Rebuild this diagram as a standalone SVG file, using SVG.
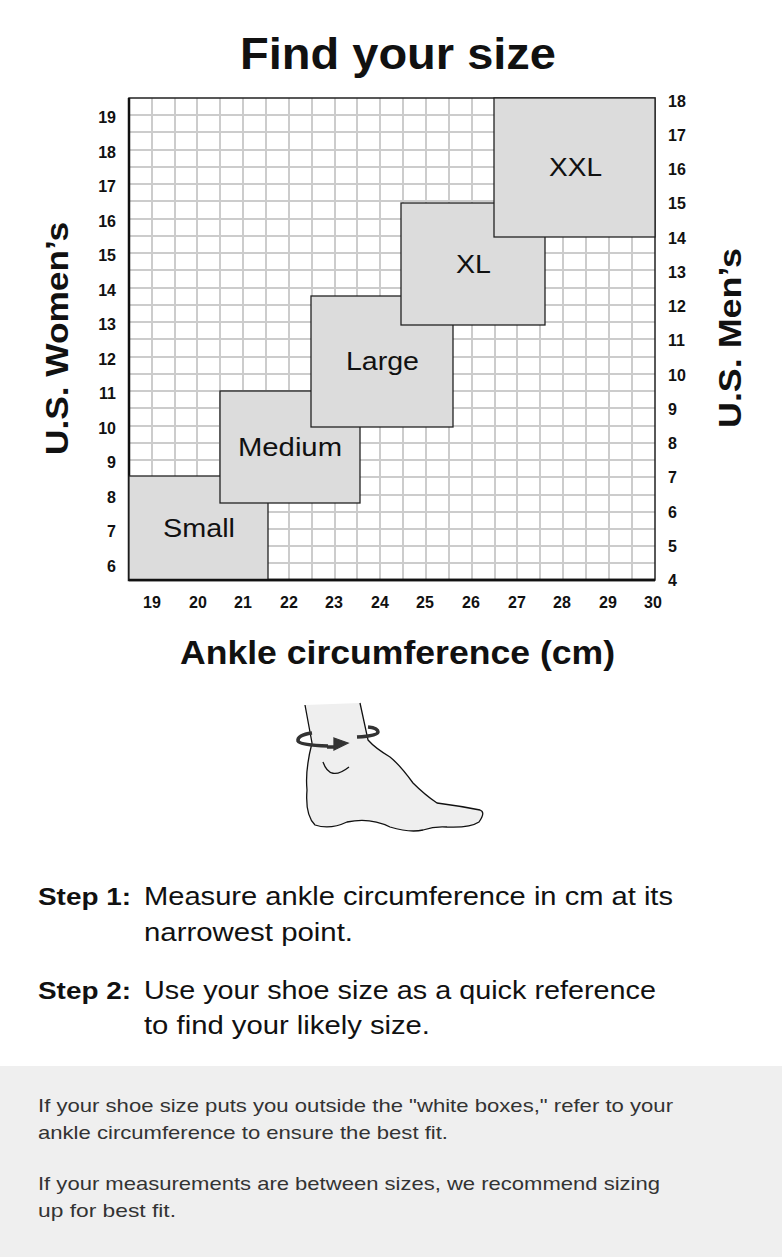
<svg xmlns="http://www.w3.org/2000/svg" width="782" height="1257" viewBox="0 0 782 1257">
<style>
text{font-family:"Liberation Sans",Arial,sans-serif;fill:#111}
.t{font-size:16px;font-weight:bold}
.g{stroke:#cccccc;stroke-width:2;fill:none}
.b{fill:#dcdcdc;stroke:#222;stroke-width:1.3}
.bl{font-size:26px}
.n{font-size:19px;fill:#333}
</style>
<rect width="782" height="1257" fill="#fff"/>
<text x="240" y="69" font-size="44" font-weight="bold" textLength="316" lengthAdjust="spacingAndGlyphs">Find your size</text>
<g id="grid">
<path class="g" d="M152 98V580M175 98V580M197 98V580M220 98V580M243 98V580M266 98V580M289 98V580M312 98V580M335 98V580M357 98V580M380 98V580M403 98V580M426 98V580M449 98V580M472 98V580M495 98V580M517 98V580M540 98V580M563 98V580M586 98V580M609 98V580M632 98V580
M129 115H655M129 132H655M129 150H655M129 167H655M129 184H655M129 201H655M129 219H655M129 236H655M129 253H655M129 270H655M129 288H655M129 305H655M129 322H655M129 339H655M129 357H655M129 374H655M129 391H655M129 408H655M129 426H655M129 443H655M129 460H655M129 477H655M129 495H655M129 512H655M129 529H655M129 546H655M129 563H655"/>
<rect x="129" y="98" width="526" height="482" fill="none" stroke="#222" stroke-width="1.5"/>
<path d="M129 98V580H655" fill="none" stroke="#111" stroke-width="2.5"/>
</g>
<g id="small"><rect class="b" x="129" y="476" width="139" height="104"/><text class="bl" x="163" y="537" textLength="72" lengthAdjust="spacingAndGlyphs">Small</text></g>
<g id="medium"><rect class="b" x="220" y="391" width="140" height="112"/><text class="bl" x="238" y="456" textLength="104" lengthAdjust="spacingAndGlyphs">Medium</text></g>
<g id="large"><rect class="b" x="311" y="296" width="142" height="131"/><text class="bl" x="346" y="370" textLength="73" lengthAdjust="spacingAndGlyphs">Large</text></g>
<g id="xl"><rect class="b" x="401" y="203" width="144" height="122"/><text class="bl" x="456" y="273" textLength="35" lengthAdjust="spacingAndGlyphs">XL</text></g>
<g id="xxl"><rect class="b" x="494" y="98" width="161" height="139"/><text class="bl" x="549" y="176" textLength="53" lengthAdjust="spacingAndGlyphs">XXL</text></g>
<path d="M129 580H655" stroke="#111" stroke-width="2.5"/>
<g id="women" text-anchor="end">
<text x="116" y="123" class="t">19</text><text x="116" y="158" class="t">18</text><text x="116" y="192" class="t">17</text><text x="116" y="227" class="t">16</text><text x="116" y="261" class="t">15</text><text x="116" y="296" class="t">14</text><text x="116" y="330" class="t">13</text><text x="116" y="365" class="t">12</text><text x="116" y="399" class="t">11</text><text x="116" y="434" class="t">10</text><text x="116" y="468" class="t">9</text><text x="116" y="503" class="t">8</text><text x="116" y="537" class="t">7</text><text x="116" y="572" class="t">6</text>
</g>
<g id="men">
<text x="668" y="107" class="t">18</text><text x="668" y="141" class="t">17</text><text x="668" y="175" class="t">16</text><text x="668" y="209" class="t">15</text><text x="668" y="244" class="t">14</text><text x="668" y="278" class="t">13</text><text x="668" y="312" class="t">12</text><text x="668" y="346" class="t">11</text><text x="668" y="381" class="t">10</text><text x="668" y="415" class="t">9</text><text x="668" y="449" class="t">8</text><text x="668" y="483" class="t">7</text><text x="668" y="518" class="t">6</text><text x="668" y="552" class="t">5</text><text x="668" y="586" class="t">4</text>
</g>
<g id="cm" text-anchor="middle">
<text x="152" y="608" class="t">19</text><text x="198" y="608" class="t">20</text><text x="243" y="608" class="t">21</text><text x="289" y="608" class="t">22</text><text x="334" y="608" class="t">23</text><text x="380" y="608" class="t">24</text><text x="425" y="608" class="t">25</text><text x="471" y="608" class="t">26</text><text x="517" y="608" class="t">27</text><text x="562" y="608" class="t">28</text><text x="608" y="608" class="t">29</text><text x="653" y="608" class="t">30</text>
</g>
<text transform="translate(68 455) rotate(-90)" font-size="32" font-weight="bold" textLength="233" lengthAdjust="spacingAndGlyphs">U.S. Women’s</text>
<text transform="translate(741 428) rotate(-90)" font-size="32" font-weight="bold" textLength="180" lengthAdjust="spacingAndGlyphs">U.S. Men’s</text>
<text x="180" y="664" font-size="33" font-weight="bold" textLength="435" lengthAdjust="spacingAndGlyphs">Ankle circumference (cm)</text>
<g id="foot" stroke="#111" stroke-width="1.3">
<path d="M305 705L312 743Q305 770 307 790Q305 815 315 825Q330 830 347 822Q370 817 390 827Q410 833 423 830Q435 826 447 827Q470 828 479 822Q486 812 480 810Q460 806 437 803Q425 795 413 783Q400 765 390 757Q375 748 368 740L360 703Z" fill="#efefef" stroke="none"/>
<path d="M305 705L312 743Q305 770 307 790Q305 815 315 825Q330 830 347 822Q370 817 390 827Q410 833 423 830Q435 826 447 827Q470 828 479 822Q486 812 480 810Q460 806 437 803Q425 795 413 783Q400 765 390 757Q375 748 368 740L360 703" fill="none"/>
<path d="M323 762Q330 782 349 767" fill="none"/>
<path d="M328 746Q300 745 298 741Q297 735 312 733M357 737Q378 736 378 732Q378 728 368 727" fill="none" stroke="#333" stroke-width="3.5"/>
<path d="M327 747L336 747" stroke="#333" stroke-width="3.5"/>
<path d="M334 738L348 743L334 750Z" fill="#333" stroke="#333"/>
</g>
<g id="steps">
<text x="38" y="905" font-weight="bold" font-size="24" textLength="93" lengthAdjust="spacingAndGlyphs">Step 1:</text>
<text x="144" y="905" font-size="25" textLength="529" lengthAdjust="spacingAndGlyphs">Measure ankle circumference in cm at its</text>
<text x="144" y="941" font-size="25" textLength="209" lengthAdjust="spacingAndGlyphs">narrowest point.</text>
<text x="38" y="999" font-weight="bold" font-size="24" textLength="93" lengthAdjust="spacingAndGlyphs">Step 2:</text>
<text x="144" y="999" font-size="25" textLength="512" lengthAdjust="spacingAndGlyphs">Use your shoe size as a quick reference</text>
<text x="144" y="1034" font-size="25" textLength="286" lengthAdjust="spacingAndGlyphs">to find your likely size.</text>
</g>
<g id="note">
<rect x="0" y="1066" width="782" height="191" fill="#efefef"/>
<text x="38" y="1112" class="n" textLength="635" lengthAdjust="spacingAndGlyphs">If your shoe size puts you outside the "white boxes," refer to your</text>
<text x="38" y="1139" class="n" textLength="410" lengthAdjust="spacingAndGlyphs">ankle circumference to ensure the best fit.</text>
<text x="38" y="1190" class="n" textLength="622" lengthAdjust="spacingAndGlyphs">If your measurements are between sizes, we recommend sizing</text>
<text x="38" y="1217" class="n" textLength="138" lengthAdjust="spacingAndGlyphs">up for best fit.</text>
</g>
</svg>
